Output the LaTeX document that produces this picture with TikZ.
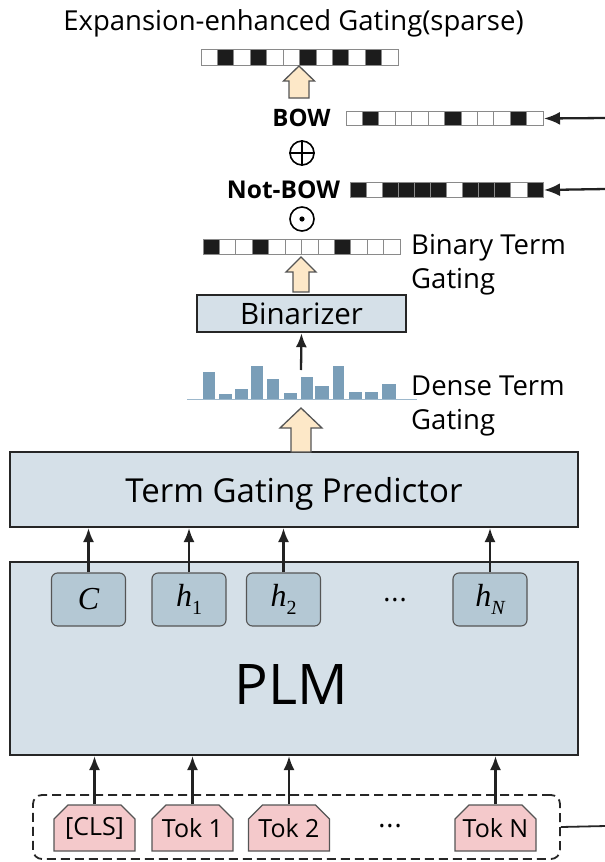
\documentclass[tikz,border=0pt]{standalone}
\usepackage{fontspec}
\setmainfont{Open Sans}
\newfontfamily\lblfont{Liberation Serif}
\usetikzlibrary{arrows.meta,shapes.misc}
\definecolor{boxfill}{HTML}{D5E0E8}
\definecolor{hfill}{HTML}{B4C8D4}
\definecolor{tokfill}{HTML}{F4C9CB}
\definecolor{arrfill}{HTML}{FDE8C8}
\definecolor{barcol}{HTML}{7A9EB8}
\definecolor{basecol}{HTML}{9DB8CC}
\definecolor{vecgray}{HTML}{8A8A8A}
\definecolor{cellblack}{HTML}{1C1C1C}
\definecolor{edgegray}{HTML}{555555}
\definecolor{linecol}{HTML}{222222}
\newcommand\hlbl[2]{{\itshape #1}\raisebox{-0.25em}{\fontsize{20}{22}\selectfont #2}}
\newcommand\bitvec[6]{%
  \foreach \b [count=\i from 0] in {#6} {
    \pgfmathsetmacro\xa{#2+\i*(#4-#2)/12}
    \pgfmathsetmacro\xb{#2+(\i+1)*(#4-#2)/12}
    \ifnum\b=1 \fill[cellblack] (\xa,#3) rectangle (\xb,#5);\fi
    \draw[vecgray, line width=0.8pt] (\xa,#3) rectangle (\xb,#5);
  }
  \node[draw=vecgray, line width=1pt, inner sep=0, minimum width={#4-#2}, minimum height={#5-#3}, anchor=north west] (#1) at (#2,#3) {};
}
\newcommand\blockarrow[6]{% x, tip y, head base y, bottom y, head half, shaft half
  \filldraw[fill=arrfill, draw=edgegray, line width=1.3pt, line join=miter]
    (#1,#2) -- (#1+#5,#3) -- (#1+#6,#3) -- (#1+#6,#4) -- (#1-#6,#4) -- (#1-#6,#3) -- (#1-#5,#3) -- cycle;
}
\begin{document}
\begin{tikzpicture}[x=1pt,y=-1pt,
  bigbox/.style={draw=black!85, line width=2pt, fill=boxfill, inner sep=0},
  hbox/.style={draw=edgegray, line width=1.1pt, fill=hfill, rounded corners=6pt, minimum width=74, minimum height=53, inner sep=0, font=\lblfont\fontsize{32}{34}\selectfont},
  tokbox/.style={draw=edgegray, line width=1.1pt, fill=tokfill, chamfered rectangle, chamfered rectangle corners={north west,north east}, chamfered rectangle xsep=7pt, chamfered rectangle ysep=7pt, minimum width=81, minimum height=46, inner sep=0, font=\fontsize{25}{28}\selectfont},
  conn/.style={draw=linecol, line width=2.3pt, -{Latex[length=14pt,width=11pt]}},
  sideconn/.style={draw=linecol, line width=2.3pt, -{Latex[length=16pt,width=13pt]}},
  lbl/.style={font=\fontsize{27.5}{34}\selectfont, align=left, anchor=west, inner sep=0},
  dots/.style={inner sep=0, font=\fontsize{15}{17}\selectfont}
]
\useasboundingbox (0,0) rectangle (605,862);

% title
\node[font=\fontsize{27.5}{30}\selectfont, inner sep=0] (title) at (293.5,23) {Expansion-enhanced Gating(sparse)};

% top vector
\bitvec{outvec}{201}{49}{398}{65}{0,1,0,1,0,0,1,0,1,0,1,0}
\blockarrow{299}{66}{81}{98}{15.5}{10}

% BOW
\node[font=\bfseries\fontsize{24}{28}\selectfont, inner sep=0] (bowlbl) at (301.5,118) {BOW};
\bitvec{bowvec}{346}{111}{543}{125}{0,1,0,0,0,0,1,0,0,0,1,0}
\coordinate (bowin) at (606,118);
\draw[sideconn] (bowin) -- (bowvec.east);

% oplus
\node[circle, draw=black, line width=1.6pt, minimum size=24, inner sep=0] (oplus) at (302,153) {};
\draw[line width=1.6pt] (oplus.north) -- (oplus.south) (oplus.west) -- (oplus.east);

% Not-BOW
\node[font=\bfseries\fontsize{24.5}{28}\selectfont, inner sep=0] (notbowlbl) at (283.5,190) {Not-BOW};
\bitvec{notbowvec}{350}{182}{543}{197}{1,0,1,1,1,1,0,1,1,1,0,1}
\coordinate (notbowin) at (606,189);
\draw[sideconn] (notbowin) -- (notbowvec.east);

% odot
\node[circle, draw=black, line width=1.6pt, minimum size=24, inner sep=0] (odot) at (302,219) {};
\fill (odot.center) circle (2.6);

% binary vector
\bitvec{binvec}{203}{239}{400}{254}{1,0,0,1,0,0,0,0,1,0,0,0}
\node[lbl] (binlbl) at (411,265) {Binary Term\\Gating};
\blockarrow{301}{257}{272}{292}{15}{8}

% binarizer
\node[bigbox, line width=2.4pt, minimum width=209, minimum height=37, font=\fontsize{29.5}{32}\selectfont] (binarizer) at (301.5,313.5) {Binarizer};

% dense bars
\foreach \xa/\xb/\t in {203/215/372, 219/232/394, 235/248/389, 251/263/366, 267/279/379, 284/297/393, 301/313/377, 315/329/386, 333/344/366, 349/362/392, 365/378/392, 382/396/384}
  \fill[barcol] (\xa,\t) rectangle (\xb,399);
\draw[basecol, line width=1pt] (187,399) -- (417,399);
\coordinate (densetop) at (301,370);
\draw[conn] (densetop) -- (binarizer.south);
\node[lbl] (denselbl) at (411,406) {Dense Term\\Gating};

% TGP
\node[bigbox, minimum width=568, minimum height=75] (tgp) at (294,489.5) {};
\node[anchor=base, inner sep=0, font=\fontsize{33}{36}\selectfont] (tgplbl) at (294,502) {Term Gating Predictor};
\blockarrow{301}{408}{428}{452}{21}{10}

% PLM
\node[bigbox, minimum width=568, minimum height=193] (plm) at (294,658.5) {};
\node[font=\fontsize{56}{60}\selectfont, inner sep=0] (plmlbl) at (291,684.5) {PLM};

\node[hbox] (hc) at (88.5,599.5) {\itshape C};
\node[hbox] (h1) at (189,599.5) {\hlbl{h}{1}};
\node[hbox] (h2) at (283.5,599.5) {\hlbl{h}{2}};
\node[hbox] (hn) at (490,599.5) {\hlbl{h}{\itshape N}};
\node[dots] (hdots) at (395,602) {•\,•\,•};
\foreach \n in {hc,h1,h2,hn}
  \draw[conn] (\n.north) -- (\n.north |- tgp.south);

% tokens
\node[draw=black!85, line width=1.8pt, rounded corners=9pt, minimum width=527, minimum height=64, inner sep=0, dash pattern=on 9pt off 5pt] (tokgroup) at (296.5,827) {};
\node[tokbox] (tcls) at (94.5,828) {[CLS]};
\node[tokbox] (t1) at (192.5,828) {Tok 1};
\node[tokbox] (t2) at (289,828) {Tok 2};
\node[tokbox] (tn) at (495.5,828) {Tok N};
\node[dots] (tdots) at (390,828) {•\,•\,•};
\foreach \n in {tcls,t1,t2,tn}
  \draw[conn] (\n.north) -- (\n.north |- plm.south);
\coordinate (tokout) at (606,826);
\draw[line width=1.8pt, black!85] (tokgroup.east) -- (tokout);
\end{tikzpicture}
\end{document}
